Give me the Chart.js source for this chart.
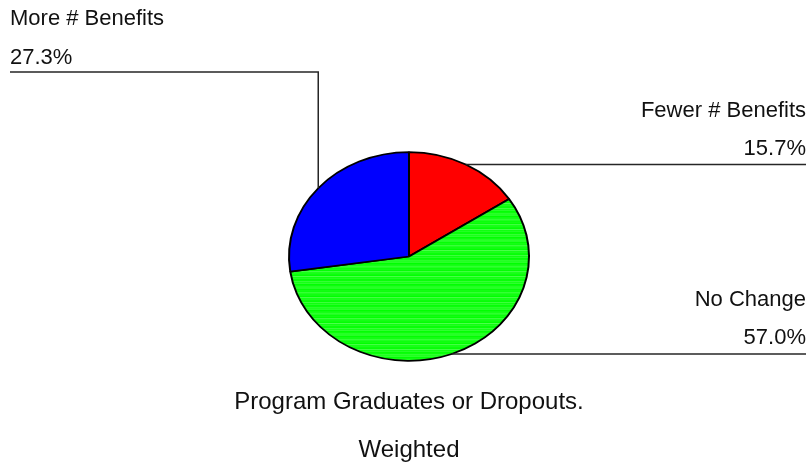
<!DOCTYPE html>
<html>
<head>
<meta charset="utf-8">
<script src="https://cdn.jsdelivr.net/npm/chart.js@4/dist/chart.umd.min.js"></script>
<style>
  html, body { margin: 0; padding: 0; background: #ffffff; }
  #wrap { width: 812px; height: 465px; }
</style>
</head>
<body>
<div id="wrap"><canvas id="pie" width="812" height="465"></canvas></div>
<script>
// Share of respondents by change in number of benefits
const categories = ['Fewer # Benefits', 'No Change', 'More # Benefits'];
const shares = [15.7, 57.0, 27.3];
const valueLabels = ['15.7%', '57.0%', '27.3%'];
const titleLines = ['Program Graduates or Dropouts.', 'Weighted'];

const sliceColors = ['#ff0000', null, '#0000ff'];

// Fine horizontal banding used for the green slice
function stripePattern() {
  const c = document.createElement('canvas');
  c.width = 4; c.height = 6;
  const g = c.getContext('2d');
  const rows = ['#00ff00', '#14ff14', '#00ff00', '#4cff4c', '#10ff10', '#2eff2e'];
  rows.forEach((col, i) => { g.fillStyle = col; g.fillRect(0, i, 4, 1); });
  return g.createPattern(c, 'repeat');
}

const Y_SQUASH = 0.87;   // vertical flattening of the pie

// Flatten the pie into an ellipse around its centre
const ellipsePlugin = {
  id: 'ellipse',
  beforeDatasetsDraw(chart) {
    const arc = chart.getDatasetMeta(0).data[0];
    const ctx = chart.ctx;
    ctx.save();
    ctx.translate(arc.x, arc.y);
    ctx.scale(1, Y_SQUASH);
    ctx.translate(-arc.x, -arc.y);
  },
  afterDatasetsDraw(chart) {
    chart.ctx.restore();
  }
};

// Leader lines, slice captions and the caption under the pie
const calloutPlugin = {
  id: 'callouts',
  afterDraw(chart) {
    const ctx = chart.ctx;
    const arcs = chart.getDatasetMeta(0).data;
    const font = '22px "Liberation Sans", Arial, sans-serif';
    const right = 806, left = 10;
    ctx.save();
    ctx.strokeStyle = '#262626';
    ctx.lineWidth = 1.5;
    ctx.fillStyle = '#111111';
    ctx.font = font;
    ctx.textBaseline = 'alphabetic';
    arcs.forEach((arc, i) => {
      const mid = (arc.startAngle + arc.endAngle) / 2;
      const ax = arc.x + arc.outerRadius * Math.cos(mid);
      const ay = arc.y + arc.outerRadius * Y_SQUASH * Math.sin(mid);
      let lineY;
      ctx.beginPath();
      if (Math.cos(mid) >= 0) {
        lineY = ay;
        ctx.moveTo(ax, lineY);
        ctx.lineTo(right, lineY);
        ctx.stroke();
        ctx.textAlign = 'right';
        ctx.fillText(valueLabels[i], right, lineY - 10);
        ctx.fillText(categories[i], right, lineY - 48);
      } else {
        lineY = 72;
        ctx.moveTo(ax, ay);
        ctx.lineTo(ax, lineY);
        ctx.lineTo(left, lineY);
        ctx.stroke();
        ctx.textAlign = 'left';
        ctx.fillText(valueLabels[i], left, lineY - 8);
        ctx.fillText(categories[i], left, lineY - 47);
      }
    });
    ctx.textAlign = 'center';
    ctx.font = '24px "Liberation Sans", Arial, sans-serif';
    const cx = arcs[0].x;
    ctx.fillText(titleLines[0], cx, 409);
    ctx.fillText(titleLines[1], cx, 457);
    ctx.restore();
  }
};

sliceColors[1] = stripePattern();

new Chart(document.getElementById('pie'), {
  type: 'pie',
  data: {
    labels: categories,
    datasets: [{
      data: shares,
      backgroundColor: sliceColors,
      borderColor: '#000000',
      borderWidth: 2,
      radius: 120
    }]
  },
  options: {
    responsive: false,
    devicePixelRatio: 1,
    animation: false,
    layout: { padding: { left: 289, right: 283, top: 140, bottom: 92 } },
    plugins: {
      legend: { display: false },
      tooltip: { enabled: false },
      title: { display: false }
    }
  },
  plugins: [ellipsePlugin, calloutPlugin]
});
</script>
</body>
</html>
